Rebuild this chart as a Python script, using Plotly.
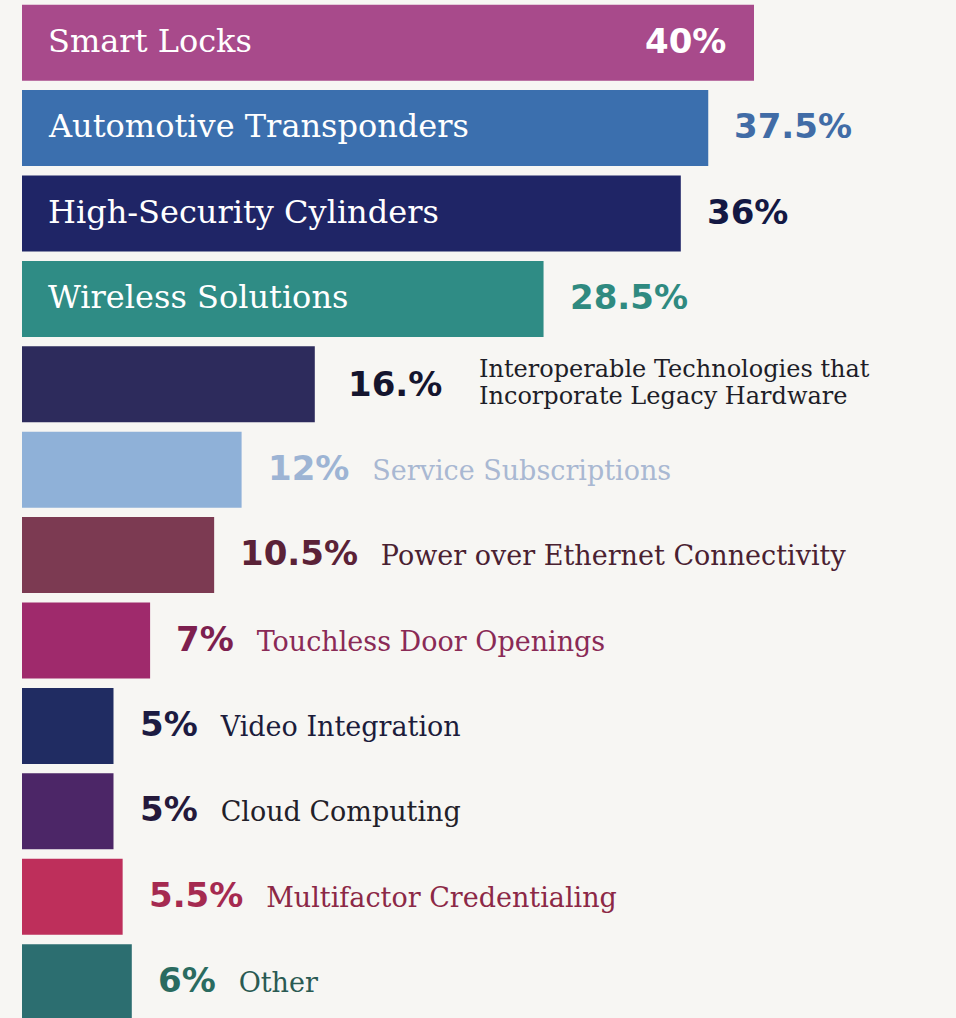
import plotly.graph_objects as go

categories = [
    "Smart Locks", "Automotive Transponders", "High-Security Cylinders", "Wireless Solutions",
    "Interoperable Technologies that<br>Incorporate Legacy Hardware", "Service Subscriptions",
    "Power over Ethernet Connectivity", "Touchless Door Openings", "Video Integration",
    "Cloud Computing", "Multifactor Credentialing", "Other",
]
values = [40, 37.5, 36, 28.5, 16, 12, 10.5, 7, 5, 5, 5.5, 6]
value_labels = ["40%", "37.5%", "36%", "28.5%", "16.%", "12%", "10.5%", "7%", "5%", "5%", "5.5%", "6%"]

bar_colors = ["#a84a8b", "#3b6fae", "#1f2566", "#2f8c85", "#2d2b5c", "#8fb1d8",
              "#7c3a52", "#9f2a6c", "#202c62", "#4c2667", "#be2f5b", "#2c6e70"]
pct_colors = ["#ffffff", "#416ca6", "#131843", "#2f8a80", "#15152e", "#9db4d4",
              "#5b2237", "#7d1f4f", "#1c1b42", "#25193b", "#a52a50", "#2a6b60"]
name_colors = ["#ffffff", "#ffffff", "#ffffff", "#ffffff", "#1e1e28", "#a9b8d2",
               "#4a2131", "#8a2a56", "#1c1c3b", "#222028", "#8c2846", "#2a5a52"]

SERIF = "DejaVu Serif"
SANS = "DejaVu Sans"
NAME_IN = 32
PCT = 34
NAME_OUT = 27

fig = go.Figure(go.Bar(
    x=values, y=categories, orientation="h",
    marker=dict(color=bar_colors, line=dict(width=0)),
    hoverinfo="skip",
))

annotations = []
vmax = max(values)
for cat, v, lab, pc, nc in zip(categories, values, value_labels, pct_colors, name_colors):
    big = v >= 25
    if big:
        annotations.append(dict(
            x=0, y=cat, xref="x", yref="y", text=cat, showarrow=False,
            xanchor="left", yanchor="middle", xshift=24, yshift=2,
            font=dict(family=SERIF, size=NAME_IN, color=nc),
        ))
        inside = v == vmax
        annotations.append(dict(
            x=v, y=cat, xref="x", yref="y", text=f"<b>{lab}</b>", showarrow=False,
            xanchor="right" if inside else "left", yanchor="middle",
            xshift=-26 if inside else 24, yshift=2,
            font=dict(family=SANS, size=PCT, color=pc),
        ))
    elif "<br>" in cat:
        annotations.append(dict(
            x=v, y=cat, xref="x", yref="y", text=f"<b>{lab}</b>", showarrow=False,
            xanchor="left", yanchor="middle", xshift=31, yshift=0,
            font=dict(family=SANS, size=PCT, color=pc),
        ))
        lines = cat.split("<br>")
        n = len(lines)
        step = 27
        for k, line in enumerate(lines):
            annotations.append(dict(
                x=v, y=cat, xref="x", yref="y", text=line, showarrow=False,
                xanchor="left", yanchor="middle", xshift=162,
                yshift=(n - 1) / 2 * step - k * step + 2, align="left",
                font=dict(family=SERIF, size=NAME_OUT - 3, color=nc),
            ))
    else:
        txt = (f"<b>{lab}</b><span style='font-size:24px'>&nbsp;&nbsp;&nbsp;</span>"
               f"<span style='font-family:{SERIF};font-size:{NAME_OUT}px;font-weight:normal;color:{nc}'>{cat}</span>")
        annotations.append(dict(
            x=v, y=cat, xref="x", yref="y", text=txt, showarrow=False,
            xanchor="left", yanchor="middle", xshift=24, yshift=2,
            font=dict(family=SANS, size=PCT, color=pc),
        ))

PX_PER_UNIT = 18.3
PLOT_W = 956 - 22
fig.update_layout(
    width=956, height=1018,
    margin=dict(l=22, r=0, t=0, b=0),
    paper_bgcolor="#f7f6f3", plot_bgcolor="#f7f6f3",
    bargap=0.11, showlegend=False,
    xaxis=dict(range=[0, PLOT_W / PX_PER_UNIT], visible=False, fixedrange=True),
    yaxis=dict(type="category", range=[11.42, -0.5], visible=False, fixedrange=True),
    annotations=annotations,
)

fig.write_html("out.html")
